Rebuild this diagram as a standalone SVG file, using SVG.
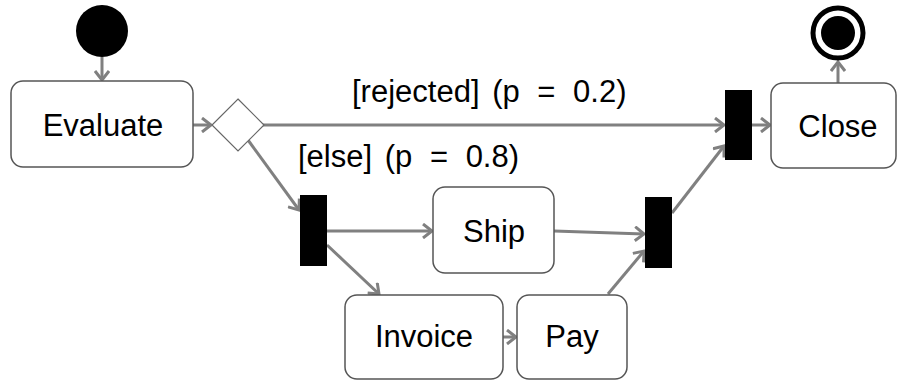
<svg xmlns="http://www.w3.org/2000/svg" width="898" height="380" viewBox="0 0 898 380">
<style>
.box{fill:#fff;stroke:#555;stroke-width:1.5}
.lbl{font-family:"Liberation Sans",Arial,sans-serif;font-size:31px;fill:#000;text-anchor:middle}
.guard{font-family:"Liberation Sans",Arial,sans-serif;font-size:31px;fill:#000}
.edge{fill:none;stroke:#808080;stroke-width:3}
.bar{fill:#000}
</style>
<defs>
<marker id="ah" markerWidth="14" markerHeight="16" refX="11" refY="8" orient="auto" markerUnits="userSpaceOnUse">
<path d="M2,1 L11,8 L2,15" fill="none" stroke="#808080" stroke-width="3"/>
</marker>
</defs>
<g id="connectors">
<line class="edge" x1="102" y1="57" x2="102" y2="80" marker-end="url(#ah)"/>
<line class="edge" x1="193" y1="125" x2="211" y2="125" marker-end="url(#ah)"/>
<line class="edge" x1="263" y1="125" x2="724" y2="125" marker-end="url(#ah)"/>
<line class="edge" x1="752" y1="125" x2="770" y2="125" marker-end="url(#ah)"/>
<line class="edge" x1="838" y1="83" x2="838" y2="62" marker-end="url(#ah)"/>
<line class="edge" x1="248" y1="140" x2="299" y2="210" marker-end="url(#ah)"/>
<line class="edge" x1="327" y1="231" x2="432" y2="231" marker-end="url(#ah)"/>
<line class="edge" x1="327" y1="245" x2="379" y2="294" marker-end="url(#ah)"/>
<line class="edge" x1="503" y1="337" x2="516" y2="337" marker-end="url(#ah)"/>
<line class="edge" x1="554" y1="231" x2="644" y2="234" marker-end="url(#ah)"/>
<line class="edge" x1="608" y1="294" x2="644" y2="251" marker-end="url(#ah)"/>
<line class="edge" x1="672" y1="213" x2="724" y2="146" marker-end="url(#ah)"/>
</g>
<g id="labels">
<text class="guard" x="352" y="102">[rejected] <tspan dx="4">(p </tspan><tspan dx="9">= </tspan><tspan dx="9">0.2)</tspan></text>
<text class="guard" x="298" y="167">[else] <tspan dx="4">(p </tspan><tspan dx="9">= </tspan><tspan dx="9">0.8)</tspan></text>
</g>
<g id="start"><circle cx="102" cy="31" r="26" fill="#000"/></g>
<g id="evaluate"><rect class="box" x="11" y="81" width="182" height="86" rx="12"/><text class="lbl" x="103" y="136">Evaluate</text></g>
<g id="decision"><polygon points="238,99 264,125 238,151 212,125" fill="#fff" stroke="#666" stroke-width="1.2"/></g>
<g id="fork"><rect class="bar" x="300" y="195" width="27" height="71"/></g>
<g id="ship"><rect class="box" x="433" y="187" width="121" height="86" rx="12"/><text class="lbl" x="494" y="242">Ship</text></g>
<g id="invoice"><rect class="box" x="345" y="295" width="158" height="84" rx="12"/><text class="lbl" x="424" y="347">Invoice</text></g>
<g id="pay"><rect class="box" x="517" y="295" width="110" height="84" rx="12"/><text class="lbl" x="572" y="347">Pay</text></g>
<g id="join2"><rect class="bar" x="645" y="197" width="27" height="71"/></g>
<g id="join1"><rect class="bar" x="725" y="90" width="27" height="70"/></g>
<g id="close"><rect class="box" x="771" y="83" width="125" height="85" rx="12"/><text class="lbl" x="838" y="137">Close</text></g>
<g id="final"><circle cx="838" cy="33" r="25" fill="#fff" stroke="#000" stroke-width="5"/><circle cx="838" cy="33" r="17" fill="#000"/></g>
</svg>
